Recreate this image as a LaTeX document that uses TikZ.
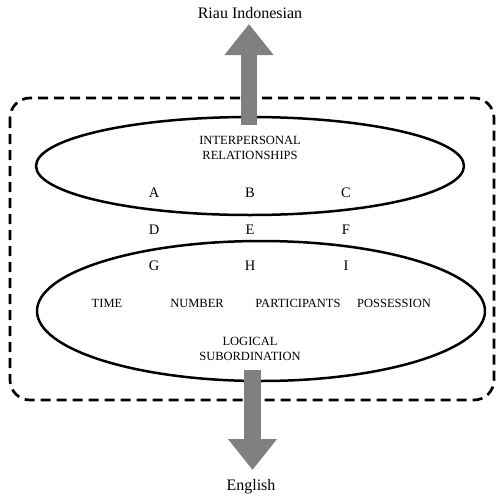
\documentclass[tikz,border=0pt]{standalone}
\usepackage{fontspec}
\setmainfont{Liberation Serif}
\usetikzlibrary{arrows.meta, shapes.geometric}
\definecolor{arrowgray}{RGB}{128,128,128}

\tikzset{
	bigarrow/.style={line width=16.5pt, draw=arrowgray, -{Triangle[length=31pt, width=47pt]}},
	field/.style={ellipse, draw, line width=2.5pt, inner sep=0pt},
	lang/.style={font=\fontsize{16}{18}\selectfont},
	caps/.style={font=\fontsize{12.5}{14}\selectfont},
	letter/.style={font=\fontsize{14.5}{16}\selectfont},
}

\begin{document}
\begin{tikzpicture}[x=1pt, y=-1pt, line join=round]
		\useasboundingbox (0,0) rectangle (504,496);
		
		%Coordinates
		\coordinate (up start) at (249,125);
		\coordinate (up end) at (249,24);
		\coordinate (down start) at (252.5,370);
		\coordinate (down end) at (252.5,470);
		
		%Frame
		\draw[line width=2.7pt, dash pattern=on 10pt off 6pt, rounded corners=20pt] (10,98) rectangle (494,400);
		
		%Fields
		\node[field, minimum width=428, minimum height=98] (inter) at (250,166) {};
		\node[field, minimum width=448, minimum height=140] (logic) at (261,311) {};
		
		%Arrows
		\draw[bigarrow] (up start) -- (up end);
		\draw[bigarrow] (down start) -- (down end);
		
		%Languages
		\node[lang] (riau) at (250,13) {Riau Indonesian};
		\node[lang] (english) at (251,487) {English};
		
		%Field names
		\node[caps, align=center] (inter name) at (250,147.5) {INTERPERSONAL\\[1pt]RELATIONSHIPS};
		\node[caps, align=center] (logic name) at (250,349) {LOGICAL\\[1pt]SUBORDINATION};
		
		%Letters
		\foreach \name/\x/\y in {A/154/193, B/250/193, C/346/193, D/154/230, E/250/230, F/346/230, G/154/266, H/250/266, I/346/266}
		{
			\node[letter] (\name) at (\x,\y) {\name};
		}
		
		%Categories
		\node[caps] (time) at (107,303) {TIME};
		\node[caps] (number) at (197,303) {NUMBER};
		\node[caps] (participants) at (298,303) {PARTICIPANTS};
		\node[caps] (possession) at (394,303) {POSSESSION};
		
	\end{tikzpicture}
\end{document}
